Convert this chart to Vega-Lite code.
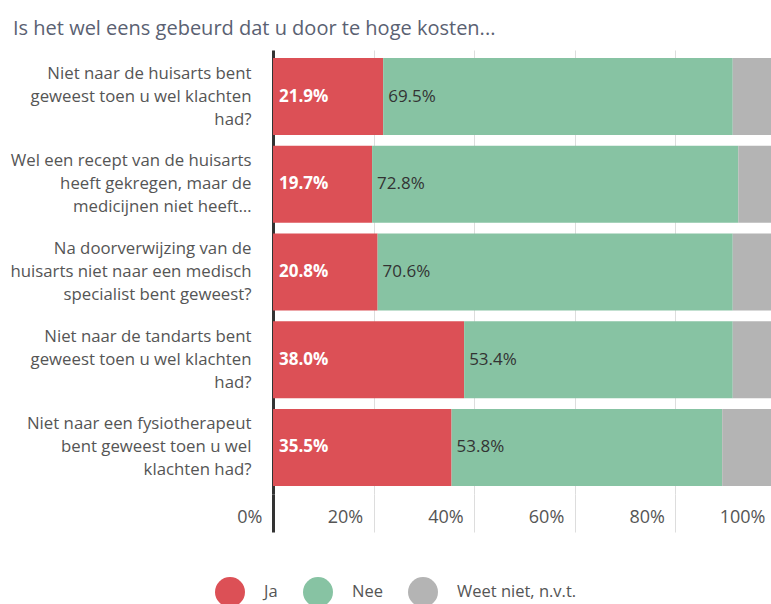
{
  "$schema": "https://vega.github.io/schema/vega-lite/v6.json",
  "autosize": "none",
  "padding": {"left": 273, "top": 50, "right": -5, "bottom": 110},
  "width": 503,
  "height": 444,
  "config": {"font": "Open Sans", "view": {"stroke": null}},
  "title": {
    "text": "Is het wel eens gebeurd dat u door te hoge kosten...",
    "anchor": "start",
    "frame": "group",
    "dx": -260,
    "fontSize": 20,
    "fontWeight": "normal",
    "color": "#5a6172",
    "offset": 11
  },
  "data": {
    "values": [
      {"q": "Niet naar de huisarts bent|geweest toen u wel klachten|had?", "cat": "Ja", "order": 1, "value": 0.219},
      {"q": "Niet naar de huisarts bent|geweest toen u wel klachten|had?", "cat": "Nee", "order": 2, "value": 0.695},
      {"q": "Niet naar de huisarts bent|geweest toen u wel klachten|had?", "cat": "Weet niet, n.v.t.", "order": 3, "value": 0.086},
      {"q": "Wel een recept van de huisarts|heeft gekregen, maar de|medicijnen niet heeft…", "cat": "Ja", "order": 1, "value": 0.197},
      {"q": "Wel een recept van de huisarts|heeft gekregen, maar de|medicijnen niet heeft…", "cat": "Nee", "order": 2, "value": 0.728},
      {"q": "Wel een recept van de huisarts|heeft gekregen, maar de|medicijnen niet heeft…", "cat": "Weet niet, n.v.t.", "order": 3, "value": 0.075},
      {"q": "Na doorverwijzing van de|huisarts niet naar een medisch|specialist bent geweest?", "cat": "Ja", "order": 1, "value": 0.208},
      {"q": "Na doorverwijzing van de|huisarts niet naar een medisch|specialist bent geweest?", "cat": "Nee", "order": 2, "value": 0.706},
      {"q": "Na doorverwijzing van de|huisarts niet naar een medisch|specialist bent geweest?", "cat": "Weet niet, n.v.t.", "order": 3, "value": 0.086},
      {"q": "Niet naar de tandarts bent|geweest toen u wel klachten|had?", "cat": "Ja", "order": 1, "value": 0.380},
      {"q": "Niet naar de tandarts bent|geweest toen u wel klachten|had?", "cat": "Nee", "order": 2, "value": 0.534},
      {"q": "Niet naar de tandarts bent|geweest toen u wel klachten|had?", "cat": "Weet niet, n.v.t.", "order": 3, "value": 0.086},
      {"q": "Niet naar een fysiotherapeut|bent geweest toen u wel|klachten had?", "cat": "Ja", "order": 1, "value": 0.355},
      {"q": "Niet naar een fysiotherapeut|bent geweest toen u wel|klachten had?", "cat": "Nee", "order": 2, "value": 0.538},
      {"q": "Niet naar een fysiotherapeut|bent geweest toen u wel|klachten had?", "cat": "Weet niet, n.v.t.", "order": 3, "value": 0.107}
    ]
  },
  "transform": [
    {"stack": "value", "groupby": ["q"], "sort": [{"field": "order"}], "as": ["x0", "x1"]}
  ],
  "encoding": {
    "y": {
      "field": "q",
      "type": "nominal",
      "sort": null,
      "title": null,
      "scale": {"paddingInner": 0.12, "paddingOuter": 0.09},
      "axis": {
        "labelExpr": "split(datum.label, '|')",
        "labelFontSize": 16.8,
        "labelLineHeight": 23,
        "labelColor": "#555555",
        "labelPadding": 22,
        "labelOffset": -23,
        "labelLimit": 300,
        "ticks": false,
        "domainColor": "#333333",
        "domainWidth": 3
      }
    }
  },
  "layer": [
    {
      "mark": {"type": "bar", "clip": true},
      "encoding": {
        "x": {
          "field": "x0",
          "type": "quantitative",
          "title": null,
          "scale": {"domain": [0, 1], "nice": false},
          "axis": {
            "values": [0, 0.2, 0.4, 0.6, 0.8, 1.0],
            "format": ".0%",
            "domain": false,
            "grid": true,
            "gridColor": "#dddddd",
            "gridWidth": 1,
            "tickSize": 38,
            "tickColor": {"condition": {"test": "datum.value == 0", "value": "#333333"}, "value": "#dddddd"},
            "tickWidth": {"condition": {"test": "datum.value == 0", "value": 3}, "value": 1},
            "labelAlign": "right",
            "labelBaseline": "middle",
            "labelOffset": -11,
            "labelPadding": -15,
            "labelFontSize": 18,
            "labelColor": "#555555",
            "labelFlush": false,
            "labelOverlap": false,
            "labelBound": false
          }
        },
        "x2": {"field": "x1"},
        "color": {
          "field": "cat",
          "type": "nominal",
          "scale": {"domain": ["Ja", "Nee", "Weet niet, n.v.t."], "range": ["#dc5056", "#87c3a3", "#b4b4b4"]},
          "legend": {
            "orient": "none",
            "legendX": -58,
            "legendY": 527,
            "direction": "horizontal",
            "title": null,
            "symbolType": "circle",
            "symbolSize": 900,
            "symbolStrokeWidth": 0,
            "symbolOpacity": 1,
            "labelFontSize": 16.5,
            "labelOffset": 19,
            "columnPadding": 25,
            "labelColor": "#555555"
          }
        }
      }
    },
    {
      "transform": [{"filter": "datum.cat == 'Ja'"}],
      "mark": {"type": "text", "align": "left", "baseline": "middle", "dx": 6, "fontSize": 17, "fontWeight": "bold", "color": "white"},
      "encoding": {
        "x": {"field": "x0", "type": "quantitative"},
        "text": {"field": "value", "type": "quantitative", "format": ".1%"}
      }
    },
    {
      "transform": [{"filter": "datum.cat == 'Nee'"}],
      "mark": {"type": "text", "align": "left", "baseline": "middle", "dx": 5, "fontSize": 17, "color": "#333333"},
      "encoding": {
        "x": {"field": "x0", "type": "quantitative"},
        "text": {"field": "value", "type": "quantitative", "format": ".1%"}
      }
    }
  ]
}
